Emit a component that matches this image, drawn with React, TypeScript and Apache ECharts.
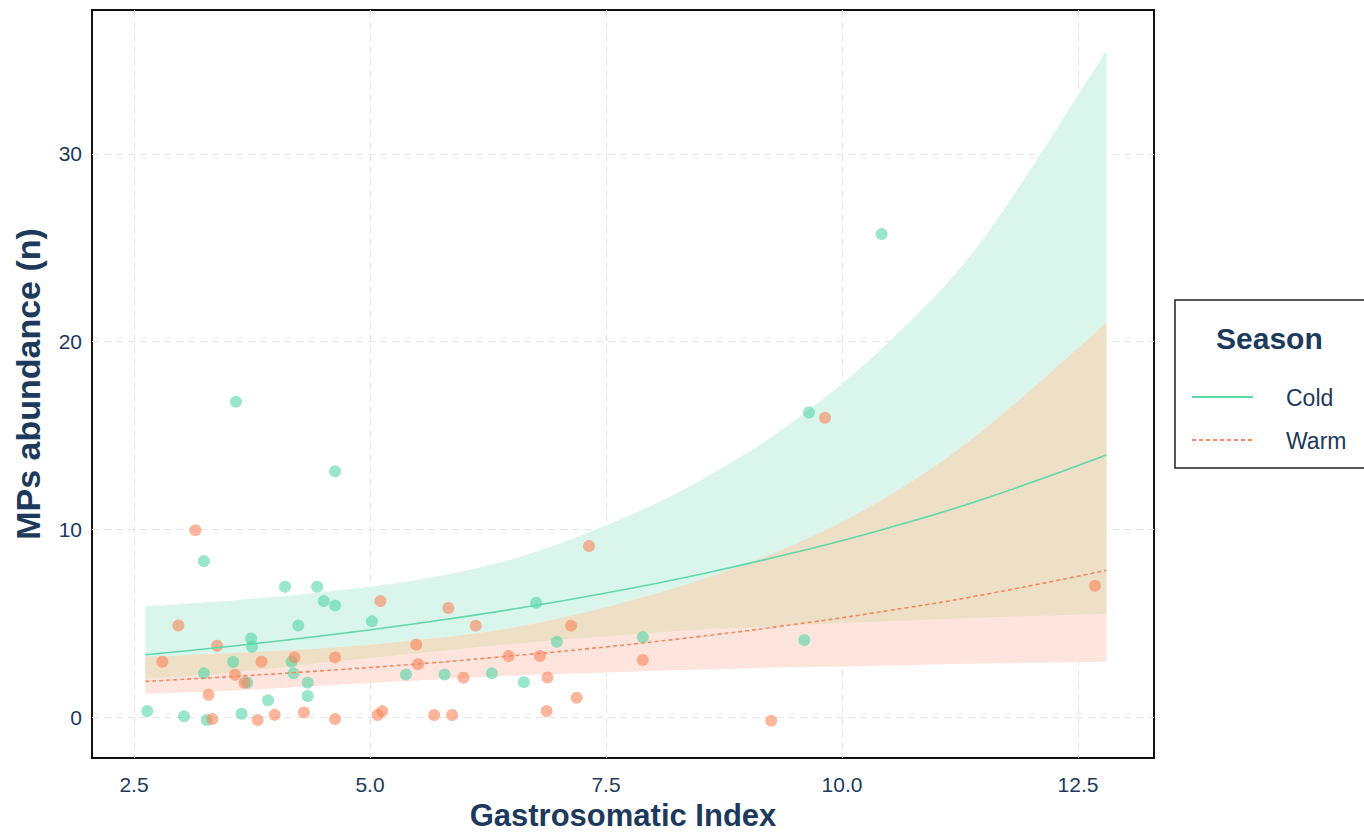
import React, { useEffect, useRef } from "react";
import * as echarts from "echarts";

// Observed points (Cold season)
const coldX = [3.58, 4.63, 3.24, 4.10, 4.44, 4.51, 4.63, 4.24, 3.74, 3.75, 3.55, 4.17, 3.24, 4.19, 3.70, 4.34, 4.34, 3.92, 2.64, 3.03, 3.64, 3.27, 5.02, 6.76, 6.98, 5.38, 5.79, 6.29, 6.63, 7.89, 9.60, 9.65, 10.42];
const coldY = [16.8, 13.1, 8.31, 6.94, 6.94, 6.18, 5.95, 4.88, 4.19, 3.75, 2.95, 2.95, 2.33, 2.33, 1.83, 1.83, 1.12, 0.89, 0.32, 0.04, 0.18, -0.16, 5.10, 6.09, 4.01, 2.27, 2.27, 2.33, 1.86, 4.25, 4.10, 16.23, 25.73];

// Observed points (Warm season)
const warmX = [3.15, 2.97, 3.38, 2.80, 3.85, 4.20, 4.63, 3.57, 3.67, 3.29, 3.33, 3.81, 3.99, 4.30, 4.63, 5.11, 5.83, 6.12, 7.32, 7.13, 5.49, 5.51, 6.47, 6.80, 5.99, 6.88, 7.19, 5.08, 5.13, 5.68, 5.87, 6.87, 7.89, 9.82, 9.25, 12.68];
const warmY = [9.96, 4.88, 3.80, 2.95, 2.95, 3.18, 3.18, 2.25, 1.83, 1.19, -0.10, -0.16, 0.12, 0.25, -0.10, 6.18, 5.81, 4.87, 9.11, 4.87, 3.87, 2.82, 3.25, 3.25, 2.10, 2.11, 1.03, 0.11, 0.32, 0.11, 0.11, 0.32, 3.04, 15.95, -0.20, 7.00];

// Fitted curves and confidence bands
const fitX = [2.62, 3.5, 4.5, 5.5, 6.5, 7.5, 8.5, 9.5, 10.5, 11.5, 12.8];
const coldFit = [3.32, 3.76, 4.33, 4.99, 5.74, 6.61, 7.61, 8.77, 10.09, 11.62, 13.96];
const coldLo = [2.05, 2.35, 2.9, 3.4, 3.9, 4.3, 4.65, 4.9, 5.1, 5.3, 5.5];
const coldHi = [5.9, 6.2, 6.65, 7.3, 8.4, 10.2, 12.6, 15.8, 20.0, 25.5, 35.5];
const warmFit = [1.9, 2.15, 2.47, 2.83, 3.26, 3.74, 4.3, 4.94, 5.68, 6.52, 7.82];
const warmLo = [1.25, 1.4, 1.68, 1.95, 2.2, 2.38, 2.53, 2.65, 2.75, 2.85, 2.95];
const warmHi = [3.2, 3.4, 3.65, 4.1, 4.75, 5.85, 7.3, 9.2, 11.8, 15.3, 21.0];

const xTicks = [2.5, 5.0, 7.5, 10.0, 12.5];
const yTicks = [0, 10, 20, 30];
const seasons = ["Cold", "Warm"];

const FONT = "'Liberation Sans', Arial, sans-serif";
const TEXT = "#1d3a5c";
const COLD_LINE = "#5fd8aa";
const WARM_LINE = "#f5895f";

function curve(P: number[][]): string {
  let s = "";
  for (let i = 0; i < P.length - 1; i++) {
    const p0 = P[i - 1] || P[i];
    const p1 = P[i];
    const p2 = P[i + 1];
    const p3 = P[i + 2] || P[i + 1];
    const c1 = [p1[0] + (p2[0] - p0[0]) / 6, p1[1] + (p2[1] - p0[1]) / 6];
    const c2 = [p2[0] - (p3[0] - p1[0]) / 6, p2[1] - (p3[1] - p1[1]) / 6];
    s += ` C${c1[0]},${c1[1]} ${c2[0]},${c2[1]} ${p2[0]},${p2[1]}`;
  }
  return s;
}

function band(name: string, lo: number[], hi: number[], color: string) {
  return {
    type: "custom",
    name,
    silent: true,
    data: fitX.map((x, i) => [x, lo[i], hi[i]]),
    encode: { x: 0, y: [1, 2] },
    renderItem: (params: any, api: any) => {
      if (params.dataIndex !== 0) return null;
      const top = fitX.map((x, i) => api.coord([x, hi[i]]));
      const bot = fitX.map((x, i) => api.coord([x, lo[i]])).reverse();
      const d =
        `M${top[0][0]},${top[0][1]}` +
        curve(top) +
        ` L${bot[0][0]},${bot[0][1]}` +
        curve(bot) +
        " Z";
      return { type: "path", shape: { pathData: d }, style: { fill: color } };
    },
  };
}

export default function App() {
  const ref = useRef<HTMLDivElement>(null);
  useEffect(() => {
    if (!ref.current) return;
    const chart = echarts.init(ref.current, undefined, { renderer: "svg" });
    const option: any = {
      animation: false,
      backgroundColor: "#ffffff",
      textStyle: { fontFamily: FONT },
      grid: {
        left: 92,
        top: 10,
        right: 210,
        bottom: 75,
        containLabel: false,
        outerBoundsMode: "none",
        show: true,
        borderColor: "#111",
        borderWidth: 2,
        backgroundColor: "transparent",
      },
      xAxis: {
        type: "value",
        min: 2.055,
        max: 13.305,
        name: "Gastrosomatic Index",
        nameLocation: "middle",
        nameGap: 38,
        nameTextStyle: { color: TEXT, fontSize: 31, fontWeight: "bold", fontFamily: FONT },
        axisLine: { show: false },
        axisTick: { show: false, customValues: xTicks },
        axisLabel: {
          customValues: xTicks,
          formatter: (v: number) => v.toFixed(1),
          color: TEXT,
          fontSize: 21,
          margin: 16,
          fontFamily: FONT,
        },
        splitLine: { show: true, lineStyle: { color: "#e4e4e4", type: [7, 5], width: 1 } },
      },
      yAxis: {
        type: "value",
        min: -2.18,
        max: 37.67,
        name: "MPs abundance (n)",
        nameLocation: "middle",
        nameGap: 47,
        nameTextStyle: { color: TEXT, fontSize: 34, fontWeight: "bold", fontFamily: FONT },
        axisLine: { show: false },
        axisTick: { show: false, customValues: yTicks },
        axisLabel: {
          customValues: yTicks,
          formatter: (v: number) => String(Math.round(v)),
          color: TEXT,
          fontSize: 21,
          margin: 10,
          fontFamily: FONT,
        },
        splitLine: { show: true, lineStyle: { color: "#e4e4e4", type: [7, 5], width: 1 } },
      },
      series: [
        band("Cold band", coldLo, coldHi, "#daf5ec"),
        band("Warm band", warmLo, warmHi, "#fde5dd"),
        band("Overlap band", coldLo, warmHi, "#ede0c6"),
        {
          type: "line",
          name: seasons[0],
          data: fitX.map((x, i) => [x, coldFit[i]]),
          symbol: "none",
          smooth: true,
          lineStyle: { color: COLD_LINE, width: 1.6 },
          silent: true,
        },
        {
          type: "line",
          name: seasons[1],
          data: fitX.map((x, i) => [x, warmFit[i]]),
          symbol: "none",
          smooth: true,
          lineStyle: { color: WARM_LINE, width: 1.6, type: [4, 3] },
          silent: true,
        },
        {
          type: "scatter",
          name: "Cold points",
          data: coldX.map((x, i) => [x, coldY[i]]),
          symbolSize: 12,
          itemStyle: { color: "rgba(77,211,165,0.72)" },
        },
        {
          type: "scatter",
          name: "Warm points",
          data: warmX.map((x, i) => [x, warmY[i]]),
          symbolSize: 12,
          itemStyle: { color: "rgba(252,126,82,0.72)" },
        },
      ],
      graphic: [
        {
          type: "rect",
          shape: { x: 1175, y: 300, width: 200, height: 168 },
          style: { fill: "#fff", stroke: "#222", lineWidth: 1.5 },
        },
        {
          type: "text",
          x: 1216,
          y: 338,
          style: {
            text: "Season",
            fill: TEXT,
            font: `bold 30px ${FONT}`,
            verticalAlign: "middle",
          },
        },
        {
          type: "line",
          shape: { x1: 1192, y1: 397, x2: 1253, y2: 397 },
          style: { stroke: COLD_LINE, lineWidth: 2 },
        },
        {
          type: "line",
          shape: { x1: 1192, y1: 440, x2: 1253, y2: 440 },
          style: { stroke: WARM_LINE, lineWidth: 2, lineDash: [4, 3] },
        },
        {
          type: "text",
          x: 1286,
          y: 398,
          style: { text: seasons[0], fill: TEXT, font: `23px ${FONT}`, verticalAlign: "middle" },
        },
        {
          type: "text",
          x: 1286,
          y: 441,
          style: { text: seasons[1], fill: TEXT, font: `23px ${FONT}`, verticalAlign: "middle" },
        },
      ],
    };
    chart.setOption(option);
    return () => chart.dispose();
  }, []);
  return (
    <div
      ref={ref}
      style={{ position: "absolute", left: 0, top: 0, width: 1364, height: 833 }}
    />
  );
}
